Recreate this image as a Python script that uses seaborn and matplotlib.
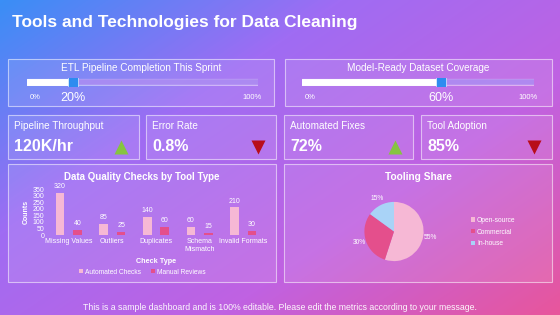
import numpy as np
import pandas as pd
import seaborn as sns
import matplotlib.pyplot as plt
from matplotlib.patches import Rectangle
from matplotlib.colors import LinearSegmentedColormap

W, H = 560, 315

title = "Tools and Technologies for Data Cleaning"
footer = "This is a sample dashboard and is 100% editable. Please edit the metrics according to your message."

slider_titles = ["ETL Pipeline Completion This Sprint", "Model-Ready Dataset Coverage"]
slider_values = [20, 60]

kpi_labels = ["Pipeline Throughput", "Error Rate", "Automated Fixes", "Tool Adoption"]
kpi_values = ["120K/hr", "0.8%", "72%", "85%"]
kpi_up = [True, False, True, False]

check_types = ["Missing Values", "Outliers", "Duplicates", "Schema\nMismatch", "Invalid Formats"]
automated = [320, 85, 140, 60, 210]
manual = [40, 25, 60, 15, 30]

share_labels = ["Open-source", "Commercial", "In-house"]
share_values = [55, 30, 15]

sns.set_theme(style="white")
plt.rcParams["font.family"] = ["Liberation Sans", "DejaVu Sans"]

WHITE = "white"
PINK_LIGHT = "#f6b8d5"
PINK_DARK = "#e44f8c"
BLUE_LIGHT = "#a9d3f7"


def box(x0, y0, x1, y1):
    # pixel box (top-left origin) -> figure fraction rect
    return [x0 / W, 1 - y1 / H, (x1 - x0) / W, (y1 - y0) / H]


fig = plt.figure(figsize=(W / 100, H / 100), dpi=100)

# background gradient, also used as a pixel canvas
bg = fig.add_axes([0, 0, 1, 1])
cmap = LinearSegmentedColormap.from_list("bg", ["#3a8ef6", "#9f6cf3", "#c062e2", "#e8569c"])
xx, yy = np.meshgrid(np.linspace(0, 1, W), np.linspace(0, 1, H))
bg.imshow(0.55 * xx + 0.45 * yy, cmap=cmap, aspect="auto", extent=[0, W, H, 0], origin="upper")
bg.set_xlim(0, W)
bg.set_ylim(H, 0)
bg.axis("off")


def panel(x0, y0, x1, y1):
    bg.add_patch(Rectangle((x0, y0), x1 - x0, y1 - y0, facecolor=(1, 1, 1, 0.10),
                           edgecolor=(1, 1, 1, 0.55), lw=0.8))


bg.text(12, 22, title, color=WHITE, fontsize=12.5, fontweight="bold", va="center")

# sliders
slider_boxes = [(8, 59, 274, 106), (285, 59, 552, 106)]
slider_tracks = [(27, 258), (302, 534)]
for (x0, y0, x1, y1), (t0, t1), name, val in zip(slider_boxes, slider_tracks, slider_titles, slider_values):
    panel(x0, y0, x1, y1)
    bg.text((x0 + x1) / 2, 68, name, color=WHITE, fontsize=7.2, ha="center", va="center")
    ax = fig.add_axes(box(t0, 78, t1, 86))
    ax.set_xlim(0, 100)
    ax.set_ylim(-1, 1)
    ax.axis("off")
    ax.plot([0, 100], [0, 0], lw=5.2, color=WHITE, alpha=0.45, solid_capstyle="round")
    ax.plot([0, 100], [0, 0], lw=4.0, color="#a07cf0", alpha=0.75, solid_capstyle="round")
    ax.plot([0, val], [0, 0], lw=5.0, color=WHITE, solid_capstyle="round")
    ax.plot(val, 0, marker="s", ms=7.5, color="#2d8cf0", mec="white", mew=0.4)
    ax.text(1, -4, "0%", color=WHITE, fontsize=5.5, ha="left", va="center", clip_on=False)
    ax.text(val, -4, f"{val}%", color=WHITE, fontsize=9, ha="center", va="center", clip_on=False)
    ax.text(101.5, -4, "100%", color=WHITE, fontsize=5.5, ha="right", va="center", clip_on=False)

# KPI cards
kpi_boxes = [(8, 115, 139), (146, 115, 276), (284, 115, 413), (421, 115, 552)]
for (x0, y0, x1), lab, val, up in zip(kpi_boxes, kpi_labels, kpi_values, kpi_up):
    panel(x0, y0, x1, 159)
    bg.text(x0 + 6, 126, lab, color=WHITE, fontsize=7.2, va="center")
    bg.text(x0 + 6, 146.5, val, color=WHITE, fontsize=11.5, fontweight="bold", va="center")
    bg.plot(x1 - 18, 147, marker="^" if up else "v", ms=10,
            color="#86c441" if up else "#b80d1a", mec="none")

# bottom panels
panel(8, 164, 276, 282)
panel(284, 164, 552, 282)

# bar chart
bars = pd.DataFrame({
    "Check Type": check_types * 2,
    "Counts": automated + manual,
    "Series": ["Automated Checks"] * len(check_types) + ["Manual Reviews"] * len(check_types),
})
ax = fig.add_axes(box(47, 189, 265, 235))
ax.patch.set_alpha(0)
sns.barplot(data=bars, x="Check Type", y="Counts", hue="Series", palette=[PINK_LIGHT, PINK_DARK],
            width=0.8, gap=0.5, saturation=1, linewidth=0, ax=ax)
for c in ax.containers:
    ax.bar_label(c, fontsize=5, color=WHITE, padding=2)
ax.set_ylim(0, 350)
ax.set_yticks(range(0, 351, 50))
ax.tick_params(axis="both", labelsize=5, colors=WHITE, length=0, pad=2)
ax.set_xlabel("Check Type", fontsize=5.2, color=WHITE, fontweight="bold", labelpad=4)
ax.set_ylabel("Counts", fontsize=5, color=WHITE, fontweight="bold", labelpad=2)
sns.despine(ax=ax, left=True, bottom=True)
leg = ax.legend(loc="center", bbox_to_anchor=(142, 272), bbox_transform=bg.transData, ncol=2,
                frameon=False, fontsize=4.8, labelcolor=WHITE, handlelength=0.6, handleheight=0.6,
                handletextpad=0.3, columnspacing=1.5)
for h in leg.legend_handles:
    h.set_edgecolor("none")
bg.text(142, 177, "Data Quality Checks by Tool Type", color=WHITE, fontsize=7, fontweight="bold",
        ha="center", va="center")

# pie chart
bg.text(418, 177, "Tooling Share", color=WHITE, fontsize=7.3, fontweight="bold", ha="center", va="center")
pax = fig.add_axes(box(357, 194.5, 431, 268.5))
wedges, _, autotexts = pax.pie(share_values, colors=[PINK_LIGHT, PINK_DARK, BLUE_LIGHT], startangle=90,
                               counterclock=False, autopct=lambda p: f"{p:.0f}%", pctdistance=1.24,
                               wedgeprops=dict(linewidth=0),
                               textprops=dict(color=WHITE, fontsize=4.8))
pax.set_aspect("equal")
pleg = pax.legend(wedges, share_labels, loc="center left", bbox_to_anchor=(465, 232),
                  bbox_transform=bg.transData, frameon=False, fontsize=4.8, labelcolor=WHITE,
                  handlelength=0.6, handleheight=0.6, handletextpad=0.3, labelspacing=0.7)
for h in pleg.legend_handles:
    h.set_edgecolor("none")

bg.text(280, 308, footer, color=WHITE, fontsize=6.3, ha="center", va="center", alpha=0.95)

fig.savefig("out.png", dpi=100)
